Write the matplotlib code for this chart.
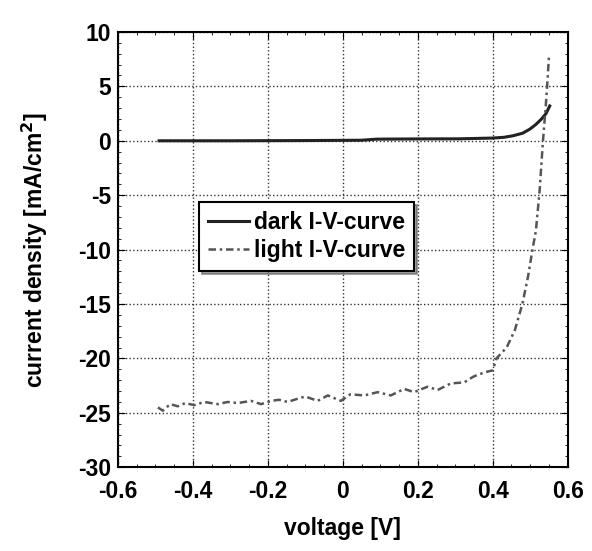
import numpy as np
import matplotlib
matplotlib.use('Agg')
import matplotlib.pyplot as plt
from matplotlib.ticker import MultipleLocator

plt.rcParams['font.family'] = ['Liberation Sans', 'DejaVu Sans']
plt.rcParams['font.weight'] = 'bold'
plt.rcParams['axes.unicode_minus'] = False

# dark I-V curve
dark_v = [-0.49, -0.3, -0.1, 0.05, 0.09, 0.2, 0.31, 0.4, 0.43, 0.454, 0.48, 0.499, 0.515, 0.53, 0.542, 0.552]
dark_j = [0.0, 0.0, 0.02, 0.05, 0.15, 0.17, 0.18, 0.25, 0.32, 0.46, 0.7, 1.07, 1.5, 2.0, 2.5, 3.2]

# light I-V curve
light_v = [-0.493, -0.48, -0.46, -0.44, -0.42, -0.396, -0.37, -0.333, -0.307, -0.28, -0.245,
           -0.218, -0.19, -0.17, -0.147, -0.12, -0.1, -0.067, -0.04, -0.005, 0.02, 0.058,
           0.093, 0.128, 0.164, 0.19, 0.226, 0.253, 0.288, 0.324, 0.347, 0.36, 0.387, 0.4,
           0.41, 0.437, 0.459, 0.479, 0.494, 0.506, 0.515, 0.525, 0.534, 0.541, 0.546, 0.55]
light_j = [-24.5, -24.8, -24.2, -24.4, -24.1, -24.3, -24.0, -24.2, -24.0, -24.1, -23.9,
           -24.2, -23.9, -23.8, -24.0, -23.7, -23.5, -23.9, -23.4, -23.9, -23.3, -23.4,
           -23.1, -23.4, -22.8, -23.1, -22.6, -22.9, -22.3, -22.2, -21.7, -21.5, -21.2, -21.1,
           -20.0, -19.0, -17.4, -15.0, -12.5, -10.0, -8.3, -4.6, 0.0, 3.0, 5.5, 7.8]

fig = plt.figure(figsize=(5.92, 5.51), dpi=100)
ax = fig.add_axes([0.199, 0.152, 0.76, 0.79])

ax.plot(dark_v, dark_j, color='#222222', lw=2.2, label='dark I-V-curve')
ax.plot(light_v, light_j, color='#555555', lw=1.8, ls=(0, (3, 1.5, 1, 1.5)), label='light I-V-curve')

ax.set_xlim(-0.6, 0.6)
ax.set_ylim(-30, 10)
ax.yaxis.set_major_locator(MultipleLocator(5))
ax.xaxis.set_minor_locator(MultipleLocator(0.05))
ax.yaxis.set_minor_locator(MultipleLocator(1))
ax.set_xticks([-0.6, -0.4, -0.2, 0, 0.2, 0.4, 0.6])
ax.set_xticklabels(['-0.6', '-0.4', '-0.2', '0', '0.2', '0.4', '0.6'])
ax.tick_params(which='both', direction='in', top=True, right=True, labelsize=16.5)
ax.tick_params(axis='x', pad=9)
ax.tick_params(axis='y', pad=5)
ax.tick_params(which='major', length=5)
ax.tick_params(which='minor', length=2.5)
ax.grid(True, which='major', color='#333333', ls=':', lw=1.0)
for s in ax.spines.values():
    s.set_linewidth(1.5)

ax.set_xlabel('voltage [V]', fontsize=16.5, fontweight='bold', labelpad=10)
ax.set_ylabel('current density [mA/cm$^\\mathbf{2}$]', fontsize=16.5, fontweight='bold', labelpad=20)

leg = ax.legend(loc='upper left', bbox_to_anchor=(0.155, 0.635), fontsize=16.5, frameon=True,
                fancybox=False, shadow=True, handlelength=1.8, handletextpad=0.2,
                borderpad=0.4, labelspacing=0.2)
leg.get_frame().set_edgecolor('black')
leg.get_frame().set_linewidth(1.5)

plt.savefig('out.png', dpi=100)
